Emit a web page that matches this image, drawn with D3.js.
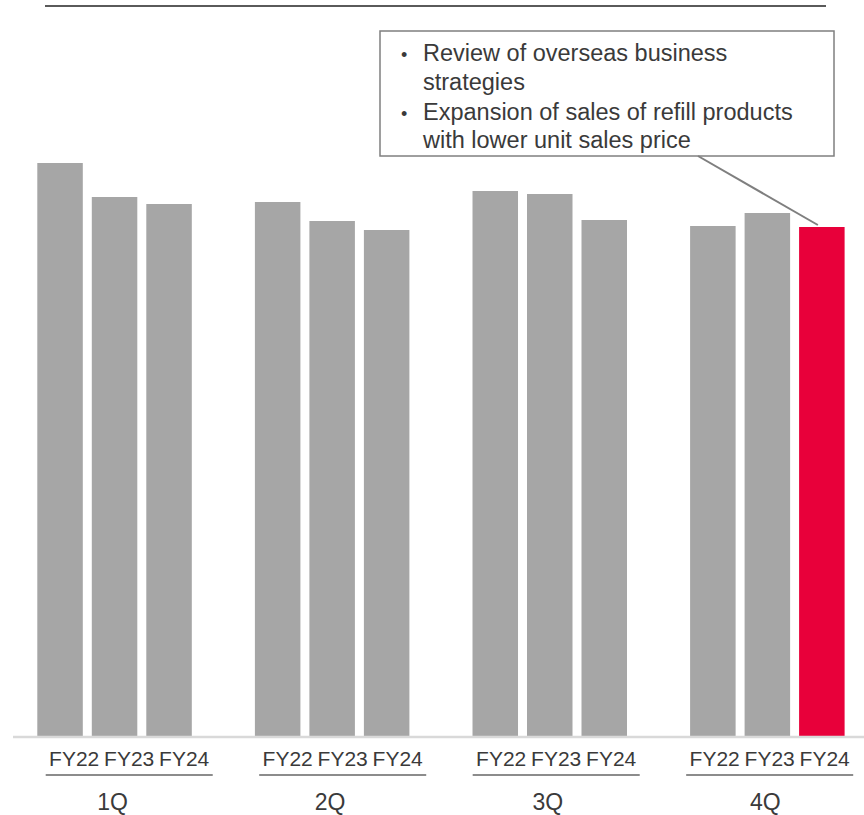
<!DOCTYPE html>
<html>
<head>
<meta charset="utf-8">
<script src="https://cdn.jsdelivr.net/npm/d3@7"></script>
<style>
  html, body { margin: 0; padding: 0; background: #fff; }
  svg { display: block; font-family: "Liberation Sans", Arial, sans-serif; }
</style>
</head>
<body>
<svg id="chart" width="864" height="815"></svg>
<script>
// ---- data (arbitrary units) ----
const quarters = ["1Q", "2Q", "3Q", "4Q"];
const years = ["FY22", "FY23", "FY24"];
const fy22 = [57.3, 53.4, 54.5, 51.0];
const fy23 = [53.9, 51.5, 54.2, 52.3];
const fy24 = [53.2, 50.6, 51.6, 50.9];
const highlight = { quarter: "4Q", year: "FY24" };
const noteBullets = [
  ["Review of overseas business", "strategies"],
  ["Expansion of sales of refill products", "with lower unit sales price"]
];

const seriesByYear = { FY22: fy22, FY23: fy23, FY24: fy24 };
const rows = [];
quarters.forEach((q, qi) => years.forEach(y => rows.push({ q, y, v: seriesByYear[y][qi] })));

// ---- layout ----
const svg = d3.select("#chart");
const W = 864, H = 815;
const baseY = 736;

const x0 = d3.scaleBand().domain(quarters).range([37.3, 844.6]).paddingInner(0.29).paddingOuter(0);
const x1 = d3.scaleBand().domain(years).range([0, x0.bandwidth()]).paddingInner(0.165).paddingOuter(0);
const y = d3.scaleLinear().domain([0, 60]).range([baseY, baseY - 600]);

// label bands (text boxes sit slightly offset from the bars)
const xl0 = d3.scaleBand().domain(quarters).range([46.7, 852.2]).paddingInner(0.227).paddingOuter(0);
const xl1 = d3.scaleBand().domain(years).range([0, xl0.bandwidth()]).padding(0);

const grey = "#a6a6a6", red = "#e8003a", textCol = "#3a3a3a";

// top rule
svg.append("line").attr("x1", 45).attr("x2", 826).attr("y1", 6).attr("y2", 6)
  .attr("stroke", "#5a5a5a").attr("stroke-width", 2);

// bars
svg.append("g").selectAll("rect").data(rows).join("rect")
  .attr("x", d => x0(d.q) + x1(d.y))
  .attr("width", x1.bandwidth())
  .attr("y", d => y(d.v))
  .attr("height", d => y(0) - y(d.v))
  .attr("fill", d => (d.q === highlight.quarter && d.y === highlight.year) ? red : grey);

// baseline
svg.append("line").attr("x1", 13).attr("x2", W).attr("y1", baseY + 1).attr("y2", baseY + 1)
  .attr("stroke", "#d9d9d9").attr("stroke-width", 2.5);

// FY labels
const lab = svg.append("g");
quarters.forEach(q => {
  lab.selectAll(null).data(years).join("text")
    .attr("x", yv => xl0(q) + xl1(yv) + xl1.bandwidth() / 2)
    .attr("y", 766)
    .attr("text-anchor", "middle")
    .attr("font-size", 21)
    .attr("fill", textCol)
    .text(yv => yv);
  lab.append("line")
    .attr("x1", xl0(q) - 1).attr("x2", xl0(q) + xl0.bandwidth() + 1)
    .attr("y1", 775).attr("y2", 775)
    .attr("stroke", "#8c8c8c").attr("stroke-width", 2);
});

// quarter labels
svg.append("g").selectAll("text").data(quarters).join("text")
  .attr("x", q => x0(q) + x0.bandwidth() / 2 - 2)
  .attr("y", 810)
  .attr("text-anchor", "middle")
  .attr("font-size", 23)
  .attr("fill", textCol)
  .text(q => q);

// annotation box
const box = { x: 380, y: 31, w: 454, h: 125 };
const ann = svg.append("g");
ann.append("rect").attr("x", box.x).attr("y", box.y).attr("width", box.w).attr("height", box.h)
  .attr("fill", "#fff").attr("stroke", "#7f7f7f").attr("stroke-width", 1.5);

const lineBaselines = [[61, 89.5], [119.5, 148]];
noteBullets.forEach((lines, bi) => {
  ann.append("text").attr("x", 401).attr("y", lineBaselines[bi][0])
    .attr("font-size", 18).attr("fill", textCol).text("•");
  lines.forEach((t, li) => {
    ann.append("text").attr("x", 423).attr("y", lineBaselines[bi][li])
      .attr("font-size", 23.5).attr("fill", textCol).text(t);
  });
});

// leader line to highlighted bar
const hv = seriesByYear[highlight.year][quarters.indexOf(highlight.quarter)];
const hx = x0(highlight.quarter) + x1(highlight.year) + x1.bandwidth() / 2 - 4;
ann.append("line")
  .attr("x1", 698).attr("y1", box.y + box.h)
  .attr("x2", hx).attr("y2", y(hv) - 2)
  .attr("stroke", "#7f7f7f").attr("stroke-width", 2);
</script>
</body>
</html>
